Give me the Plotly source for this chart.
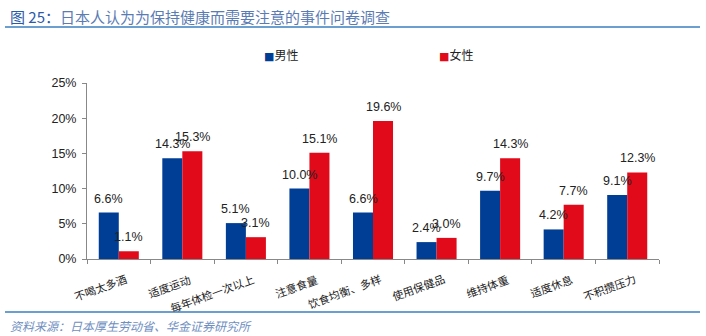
import plotly.graph_objects as go

categories = ["不喝太多酒", "适度运动", "每年体检一次以上", "注意食量", "饮食均衡、多样",
              "使用保健品", "维持体重", "适度休息", "不积攒压力"]
series_names = ["男性", "女性"]
male = [6.6, 14.3, 5.1, 10.0, 6.6, 2.4, 9.7, 4.2, 9.1]
female = [1.1, 15.3, 3.1, 15.1, 19.6, 3.0, 14.3, 7.7, 12.3]
y_ticks = [0, 5, 10, 15, 20, 25]
y_tick_labels = ["0%", "5%", "10%", "15%", "20%", "25%"]

BLUE = "#003e95"
RED = "#e00a1a"
FONT = "Liberation Sans, Arial, Noto Sans CJK SC"

# plot area in pixels (706 x 336 canvas)
L, R, T, B = 87, 659, 83, 259
W, H = R - L, B - T


def px(x):
    return (x - L) / W


def py(y):
    return (B - y) / H


fig = go.Figure()
fig.add_trace(go.Bar(name=series_names[0], x=categories, y=male,
                     marker=dict(color=BLUE, line=dict(width=0))))
fig.add_trace(go.Bar(name=series_names[1], x=categories, y=female,
                     marker=dict(color=RED, line=dict(width=0))))

annotations = []
for cat, m, f in zip(categories, male, female):
    for val, shift in ((m, -10), (f, 10)):
        annotations.append(dict(
            x=cat, y=val, xref="x", yref="y", text=f"{val:.1f}%",
            showarrow=False, xshift=shift, yshift=14, yanchor="middle",
            font=dict(family=FONT, size=12.5, color="#222222"),
        ))
    # slanted category label, its right end hanging just right of the group centre
    annotations.append(dict(
        x=cat, y=0, xref="x", yref="y", text=cat, textangle=-20,
        showarrow=False, xanchor="right", yanchor="top", xshift=13, yshift=-9,
        font=dict(family="Noto Sans CJK SC", size=11, color="#222222"),
    ))

# legend keys: coloured square followed by the series name
for name, color, x0 in ((series_names[0], BLUE, 262), (series_names[1], RED, 437)):
    annotations.append(dict(
        x=px(x0), y=py(55), xref="paper", yref="paper", xanchor="left", yanchor="middle",
        showarrow=False,
        text=f"<span style='color:{color};font-family:DejaVu Sans;font-size:11px'>■</span>{name}",
        font=dict(family="Noto Sans CJK SC", size=12, color="#222222"),
    ))

# title and source note
annotations.append(dict(
    x=px(8), y=py(16), xref="paper", yref="paper", xanchor="left", yanchor="middle",
    showarrow=False,
    text="<span style='color:#2a5aa8'>图 25：</span>日本人认为为保持健康而需要注意的事件问卷调查",
    font=dict(family="Noto Sans CJK SC", size=15, color="#5b7cb3"),
))
annotations.append(dict(
    x=px(8), y=py(325), xref="paper", yref="paper", xanchor="left", yanchor="middle",
    showarrow=False, text="<i>资料来源：日本厚生劳动省、华金证券研究所</i>",
    font=dict(family="Noto Sans CJK SC", size=12, color="#6f8fbf"),
))

shapes = [
    dict(type="line", xref="paper", yref="paper", x0=px(5), x1=px(700), y0=py(27), y1=py(27),
         line=dict(color="#3a7fc0", width=1.5)),
    dict(type="line", xref="paper", yref="paper", x0=px(5), x1=px(700), y0=py(312), y1=py(312),
         line=dict(color="#3a7fc0", width=1.5)),
]

fig.update_layout(
    width=706, height=336,
    margin=dict(l=L, r=706 - R, t=T, b=336 - B, pad=0),
    paper_bgcolor="white", plot_bgcolor="white",
    barmode="group", bargap=0.37, bargroupgap=0,
    showlegend=False,
    annotations=annotations,
    shapes=shapes,
    font=dict(family=FONT, color="#222222"),
)

fig.update_xaxes(
    type="category", categoryorder="array", categoryarray=categories,
    range=[-0.5, len(categories) - 0.5],
    showline=True, linecolor="#888888", linewidth=1,
    ticks="outside", tickson="boundaries", ticklen=4, tickcolor="#888888",
    showticklabels=False,
    showgrid=False, zeroline=False,
)
fig.update_yaxes(
    range=[0, 25], tickvals=y_ticks, ticktext=y_tick_labels,
    showline=True, linecolor="#888888", linewidth=1,
    ticks="outside", ticklen=4, tickcolor="#888888", ticklabelstandoff=3,
    tickfont=dict(family=FONT, size=12.5, color="#222222"),
    showgrid=False, zeroline=False,
)

fig.write_html("out.html")
